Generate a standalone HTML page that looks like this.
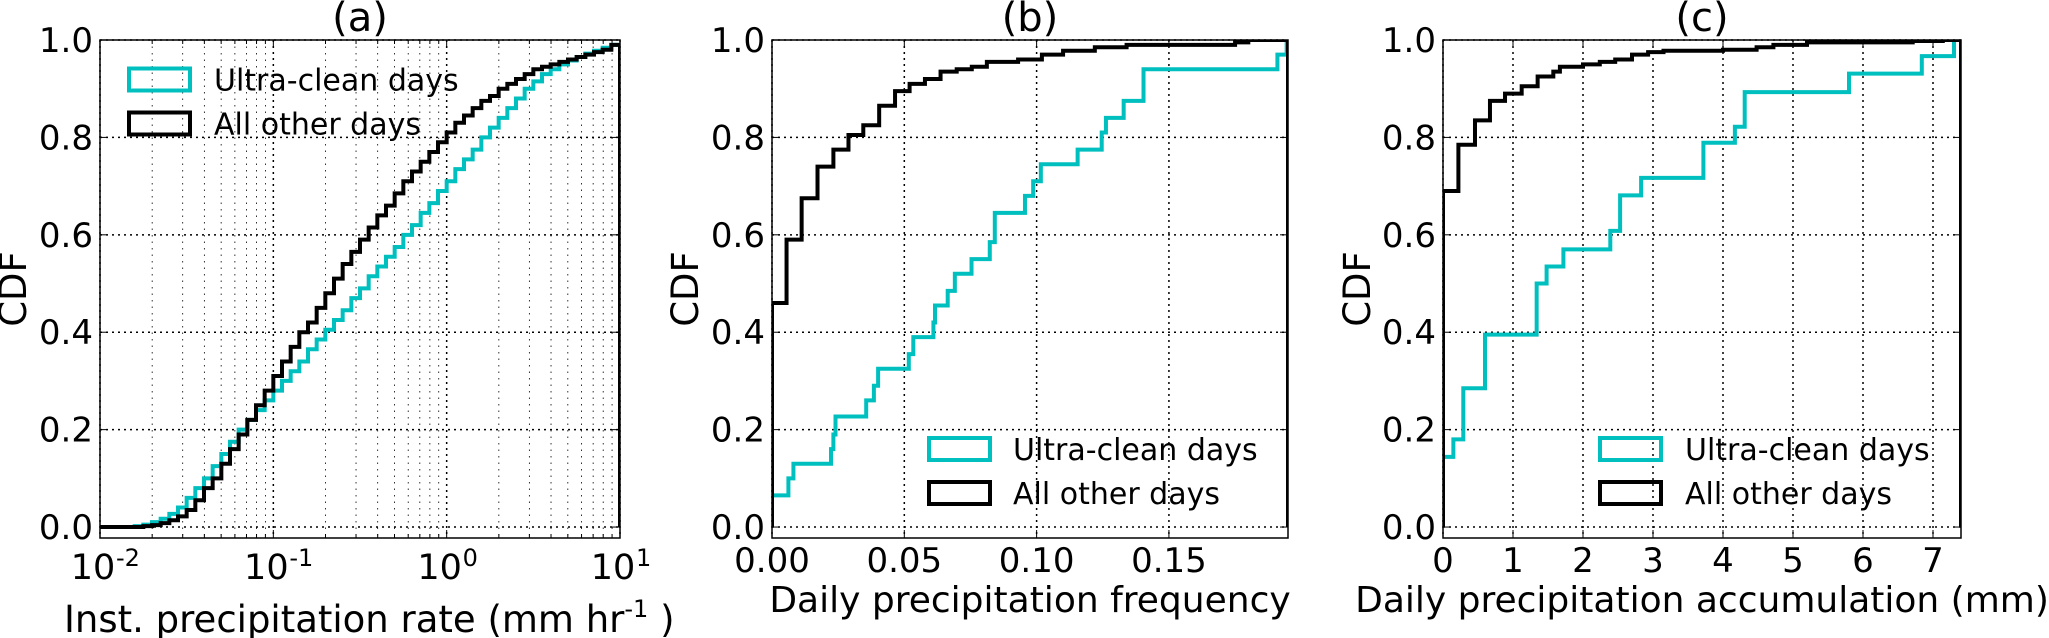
<!DOCTYPE html>
<html><head><meta charset="utf-8">
<style>
html,body{margin:0;padding:0;background:#fff;}
svg{display:block;font-family:"DejaVu Sans","Liberation Sans",sans-serif;}
</style></head>
<body>
<svg id="fig" width="2049" height="638" viewBox="0 0 2049 638" xmlns="http://www.w3.org/2000/svg"></svg>
<script>
// ---------- data ----------
// Panel (a): log-spaced bins (0.05 decade) from 10^-2 to 10^1
const aBinStartLog = -2;
const aBinWidthLog = 0.05;
const aBlack = [0,0,0,0,0,0.002,0.004,0.008,0.014,0.022,0.035,0.055,0.08,0.10,0.13,0.16,0.19,0.22,0.25,0.28,0.31,0.34,0.37,0.40,0.42,0.45,0.48,0.51,0.54,0.565,0.59,0.615,0.64,0.66,0.685,0.71,0.73,0.75,0.77,0.79,0.81,0.83,0.845,0.86,0.875,0.885,0.90,0.91,0.92,0.93,0.94,0.945,0.95,0.955,0.96,0.965,0.97,0.975,0.98,0.99];
const aCyan = [0,0,0,0,0.002,0.005,0.01,0.017,0.027,0.04,0.06,0.08,0.1,0.125,0.15,0.175,0.2,0.22,0.24,0.26,0.28,0.3,0.32,0.34,0.365,0.385,0.405,0.425,0.445,0.47,0.49,0.515,0.535,0.555,0.575,0.6,0.62,0.645,0.665,0.69,0.71,0.735,0.755,0.775,0.80,0.82,0.84,0.86,0.88,0.9,0.915,0.93,0.94,0.95,0.958,0.965,0.972,0.978,0.984,0.99];
// Panel (b)
const bBlackX = [0,0.0055,0.0112,0.0172,0.0232,0.0289,0.0345,0.0405,0.0465,0.052,0.0578,0.0637,0.0698,0.0755,0.0812,0.093,0.102,0.11,0.122,0.134,0.175,0.18];
const bBlackY = [0.46,0.59,0.675,0.74,0.775,0.805,0.825,0.865,0.895,0.91,0.92,0.935,0.94,0.945,0.955,0.96,0.97,0.978,0.985,0.99,0.995,1.0];
const bCyanX = [0,0.0062,0.0081,0.0223,0.0232,0.024,0.0356,0.0385,0.0401,0.0517,0.0534,0.061,0.0616,0.0664,0.0691,0.0754,0.0823,0.0842,0.0956,0.0987,0.1016,0.1155,0.1246,0.1262,0.1329,0.1404,0.191,0.1945];
const bCyanY = [0.065,0.10,0.13,0.16,0.19,0.227,0.26,0.29,0.325,0.355,0.39,0.42,0.455,0.485,0.52,0.55,0.585,0.645,0.68,0.71,0.745,0.775,0.81,0.84,0.875,0.94,0.97,1.0];
// Panel (c)
const cBlackX = [0,0.22,0.457,0.671,0.886,1.124,1.352,1.576,1.67,2.0,2.24,2.46,2.7,2.93,3.15,4.0,4.48,4.72,5.2,6.71,7.14];
const cBlackY = [0.69,0.785,0.835,0.875,0.89,0.905,0.925,0.935,0.945,0.95,0.955,0.96,0.97,0.975,0.978,0.98,0.985,0.99,0.995,0.998,1.0];
const cCyanX = [0,0.148,0.29,0.6,1.338,1.48,1.72,2.39,2.53,2.83,3.72,4.17,4.31,5.8,6.84,7.3];
const cCyanY = [0.144,0.18,0.285,0.395,0.5,0.535,0.57,0.608,0.681,0.717,0.789,0.822,0.893,0.931,0.967,1.0];
const yTicks = [0.0,0.2,0.4,0.6,0.8,1.0];
const bXTicks = [0.00,0.05,0.10,0.15];
const cXTicks = [0,1,2,3,4,5,6,7];
const aXTickExp = [-2,-1,0,1];
const legendLabels = ["Ultra-clean days","All other days"];
const panelTitles = ["(a)","(b)","(c)"];
const xLabels = ["Daily precipitation frequency","Daily precipitation accumulation (mm)"];

// ---------- drawing ----------
const NS="http://www.w3.org/2000/svg";
const svg=document.getElementById('fig');
const CYAN="#00bfbf";
function mk(tag,attrs,parent){const e=document.createElementNS(NS,tag);for(const k in attrs)e.setAttribute(k,attrs[k]);(parent||svg).appendChild(e);return e;}
const TOP=40, BOT=538, YMIN=-0.0225, YMAX=1.0;
function yScale(v){return TOP+(YMAX-v)/(YMAX-YMIN)*(BOT-TOP);}

function makePanel(idx,left,right,xs,name){
  const g=mk('g',{});
  
  
  const clip=mk('clipPath',{id:'clip'+idx},g);
  mk('rect',{x:left,y:TOP,width:right-left,height:BOT-TOP},clip);
  return {g,left,right,xs};
}
function gridV(p,x,minor){
  const l=mk('line',{x1:x,x2:x,y1:TOP,y2:BOT,stroke:'#000','stroke-width':minor?0.8:1.5,'stroke-dasharray':minor?'1.5,5':'2,4'},p.g);
  
  
  const tl=minor?4:8;
  mk('line',{x1:x,x2:x,y1:BOT,y2:BOT-tl,stroke:'#000','stroke-width':1},p.g);
  mk('line',{x1:x,x2:x,y1:TOP,y2:TOP+tl,stroke:'#000','stroke-width':1},p.g);
}
function gridH(p,v){
  const y=yScale(v);
  const l=mk('line',{x1:p.left,x2:p.right,y1:y,y2:y,stroke:'#000','stroke-width':1.5,'stroke-dasharray':'2,4'},p.g);
  
  
  mk('line',{x1:p.left,x2:p.left+8,y1:y,y2:y,stroke:'#000','stroke-width':1},p.g);
  mk('line',{x1:p.right,x2:p.right-8,y1:y,y2:y,stroke:'#000','stroke-width':1},p.g);
  const t=mk('text',{x:p.left-7,y:y+12,'font-size':34,'text-anchor':'end'},p.g);
  t.textContent=v.toFixed(1);
  
  
}
function stepPath(p,xsArr,ysArr,xEnd,color,name){
  let d='M'+p.xs(xsArr[0])+','+yScale(0);
  for(let i=0;i<xsArr.length;i++){
    const x=p.xs(xsArr[i]);
    d+=' L'+x+','+(i===0?yScale(0):yScale(ysArr[i-1]))+' L'+x+','+yScale(ysArr[i]);
  }
  const xe=p.xs(xEnd);
  d+=' L'+xe+','+yScale(ysArr[ysArr.length-1])+' L'+xe+','+yScale(0);
  const path=mk('path',{d:d,fill:'none',stroke:color,'stroke-width':4,'stroke-linejoin':'miter','clip-path':'url(#clip'+p.idx+')'},p.g);
  
  
}
function frameAndLabels(p,title,ylabelX){
  const r=mk('rect',{x:p.left,y:TOP,width:p.right-p.left,height:BOT-TOP,fill:'none',stroke:'#000','stroke-width':1.5},p.g);
  
  
  const t=mk('text',{x:(p.left+p.right)/2,y:31,'font-size':40,'text-anchor':'middle'},p.g);
  t.textContent=title;
  
  
  const yl=mk('text',{x:0,y:0,'font-size':37,'text-anchor':'middle',transform:'translate('+ylabelX+','+((TOP+BOT)/2)+') rotate(-90)'},p.g);
  yl.textContent='CDF';
  
  
}
function legend(p,x0,y0,textX){
  const cols=[CYAN,'#000'];
  for(let i=0;i<2;i++){
    const cy=y0+i*44;
    const r=mk('rect',{x:x0,y:cy-11,width:61,height:22,fill:'none',stroke:cols[i],'stroke-width':4},p.g);
    
    
    const t=mk('text',{x:textX,y:cy+11,'font-size':30},p.g);
    t.textContent=legendLabels[i];
    
    
  }
}

// Panel (a)
const aL=100,aR=620;
const aXs=v=>aL+(Math.log10(v)+2)/3*(aR-aL);
const pa=makePanel(0,aL,aR,aXs,'panel-a');pa.idx=0;
for(let e=-2;e<1;e++){for(let m=2;m<=9;m++){gridV(pa,aXs(m*Math.pow(10,e)),true);}}
aXTickExp.forEach(e=>{
  gridV(pa,aXs(Math.pow(10,e)),false);
  const x=aXs(Math.pow(10,e));
  const t=mk('text',{x:x-7,y:579,'font-size':35,'text-anchor':'middle'},pa.g);
  t.textContent='10';
  
  
  const s=mk('text',{x:x+16,y:566,'font-size':24},pa.g);
  s.textContent=String(e);
  
  
});
yTicks.forEach(v=>gridH(pa,v));
const aEdges=aBlack.map((_,i)=>Math.pow(10,aBinStartLog+i*aBinWidthLog));
const aEnd=Math.pow(10,aBinStartLog+aBlack.length*aBinWidthLog);
stepPath(pa,aEdges,aCyan,aEnd,CYAN,'series-ultra-clean-a');
stepPath(pa,aEdges,aBlack,aEnd,'#000','series-other-a');
frameAndLabels(pa,panelTitles[0],26);
legend(pa,129,79.5,214);
const axl=mk('text',{x:64,y:632,'font-size':37},pa.g);


axl.innerHTML='Inst. precipitation rate (mm hr<tspan dy="-15" font-size="24">-1</tspan><tspan dy="15"> )</tspan>';

// Panel (b)
const bL=772,bR=1288,bMax=0.195;
const bXs=v=>bL+v/bMax*(bR-bL);
const pb=makePanel(1,bL,bR,bXs,'panel-b');pb.idx=1;
bXTicks.forEach(v=>{
  gridV(pb,bXs(v),false);
  const t=mk('text',{x:bXs(v),y:572,'font-size':34,'text-anchor':'middle'},pb.g);
  t.textContent=v.toFixed(2);
  
  
});
yTicks.forEach(v=>gridH(pb,v));
stepPath(pb,bCyanX,bCyanY,bMax,CYAN,'series-ultra-clean-b');
stepPath(pb,bBlackX,bBlackY,bMax,'#000','series-other-b');
frameAndLabels(pb,panelTitles[1],698);
legend(pb,929,449,1013);
const bxl=mk('text',{x:(bL+bR)/2,y:612,'font-size':36,'text-anchor':'middle'},pb.g);
bxl.textContent=xLabels[0];



// Panel (c)
const cL=1443,cR=1961,cMax=7.4;
const cXs=v=>cL+v/cMax*(cR-cL);
const pc=makePanel(2,cL,cR,cXs,'panel-c');pc.idx=2;
cXTicks.forEach(v=>{
  gridV(pc,cXs(v),false);
  const t=mk('text',{x:cXs(v),y:572,'font-size':34,'text-anchor':'middle'},pc.g);
  t.textContent=String(v);
  
  
});
yTicks.forEach(v=>gridH(pc,v));
stepPath(pc,cCyanX,cCyanY,cMax,CYAN,'series-ultra-clean-c');
stepPath(pc,cBlackX,cBlackY,cMax,'#000','series-other-c');
frameAndLabels(pc,panelTitles[2],1370);
legend(pc,1600,449,1685);
const cxl=mk('text',{x:(cL+cR)/2,y:612,'font-size':36,'text-anchor':'middle'},pc.g);
cxl.textContent=xLabels[1];


</script>
</body></html>
